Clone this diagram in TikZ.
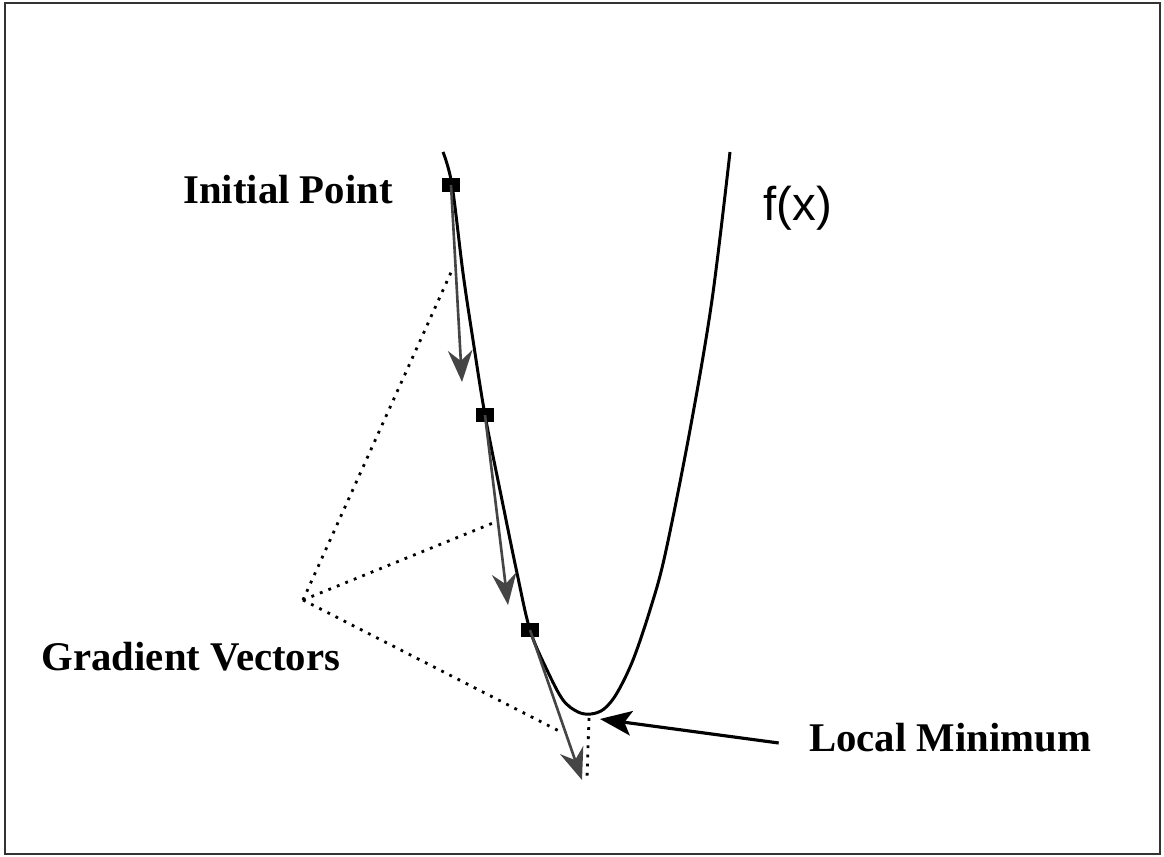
\documentclass[tikz,border=0pt]{standalone}
\usepackage{fontspec}
\setmainfont{Liberation Serif}
\newfontfamily\fxfont{Liberation Sans}
\usepackage{tikz}
\usetikzlibrary{arrows.meta,positioning}
\definecolor{gvgray}{HTML}{454545}

\begin{document}
\begin{tikzpicture}[x=0.02cm, y=-0.02cm,
  lbl/.style={font=\fontsize{23.2}{28}\selectfont\bfseries, inner sep=0pt},
  pt/.style={fill=black, minimum width=10pt, minimum height=8.5pt, inner sep=0pt},
  grad/.style={-{Stealth[length=18pt, width=14pt, inset=6pt]}, line width=1.5pt, color=gvgray},
  dots/.style={line width=1.6pt, dash pattern=on 1.6pt off 3.6pt, line cap=butt},
  curve/.style={line width=1.7pt}
]
  \useasboundingbox (0,0) rectangle (1164,857);
  \draw[line width=1.4pt, color=black!80] (5,3) rectangle (1160,854);

  % the function
  \draw[curve] plot[smooth, tension=0.55] coordinates {(443,152) (452,185) (463,273) (473,340)
    (485,415) (502,500) (517,573) (530,630) (547,670) (563,700) (578,712) (591,714)
    (604,709) (617,693) (633,660) (650,610) (665,555) (690,430) (712,300) (730,152)};

  % steps
  \node[pt] (p1) at (451,185) {};
  \node[pt] (p2) at (485,415) {};
  \node[pt] (p3) at (530,630) {};
  \coordinate (g1) at (462,382);
  \coordinate (g2) at (508,605);
  \coordinate (g3) at (582,780);
  \draw[grad] (p1.center) -- (g1);
  \draw[grad] (p2.center) -- (g2);
  \draw[grad] (p3.center) -- (g3);

  % labels
  \node[lbl] (init) at (288,190) {Initial Point};
  \node[lbl] (gv) at (191,657) {Gradient Vectors};
  \node[lbl] (lmin) at (950,738) {Local Minimum};
  \node[font=\fxfont\fontsize{27}{32}\selectfont, inner sep=0pt] (fx) at (798,208) {f(x)};

  % pointers to the gradient vectors
  \coordinate (apex) at (303,600);
  \coordinate (d1) at (453,268);
  \coordinate (d2) at (493,523);
  \coordinate (d3) at (561,732);
  \draw[dots] (apex) -- (d1);
  \draw[dots] (apex) -- (d2);
  \draw[dots] (apex) -- (d3);

  % minimum
  \coordinate (m) at (589,718);
  \coordinate (mb) at (587,778);
  \draw[dots] (m) -- (mb);
  \draw[-{Stealth[length=18pt, width=14pt, inset=4pt]}, line width=1.8pt]
    (lmin.west) ++(-30,5) -- (600,719);
\end{tikzpicture}
\end{document}
